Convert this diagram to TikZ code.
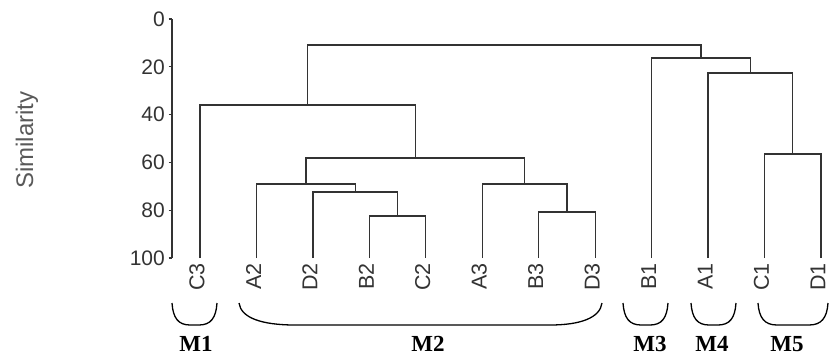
\documentclass[tikz,border=0pt]{standalone}
\usepackage{fontspec}
\setmainfont{Liberation Serif}
\setsansfont{Liberation Sans}
\begin{document}
\begin{tikzpicture}[x=1pt,y=-1pt,
  dend/.style={draw=black!80,line width=1.3pt},
  axisline/.style={draw=black!80,line width=1.2pt},
  ticklab/.style={anchor=east,inner sep=0pt,text=black!80,font=\sffamily\fontsize{21}{22}\selectfont},
  leaflab/.style={rotate=90,anchor=east,inner sep=0pt,text=black!80,font=\sffamily\fontsize{21.5}{23}\selectfont},
  grplab/.style={inner sep=0pt,font=\bfseries\fontsize{23}{25}\selectfont},
  brk/.style={draw=black,line width=1.3pt},
  ytitle/.style={rotate=90,inner sep=0pt,text=black!65,font=\sffamily\fontsize{24}{26}\selectfont}]
\useasboundingbox (0,0) rectangle (830,360);
% axis
\node[ytitle] (ytit) at (27,140) {Similarity};
\coordinate (ax0) at (172,19);
\coordinate (ax100) at (172,258);
\draw[axisline] (ax0) -- (ax100);
\foreach \v/\yy in {0/19,20/66.8,40/114.6,60/162.4,80/210.2,100/258}{
  \draw[axisline] (168.5,\yy) -- (172,\yy);
  \node[ticklab] (t\v) at (165,\yy) {\v};
}
% leaves
\foreach \n/\xx in {C3/200,A2/256.5,D2/312.9,B2/369.4,C2/425.8,A3/482.3,B3/538.7,D3/595.2,B1/651.6,A1/708.1,C1/764.5,D1/821}{
  \coordinate (\n) at (\xx,258);
  \node[leaflab] (l\n) at (\xx-3,263) {\n};
}
% clusters
\coordinate (cBC2) at (397.6,216);
\coordinate (cD2) at (355.2,192);
\coordinate (cA2) at (305.9,184);
\coordinate (cBD3) at (567,212);
\coordinate (cA3) at (524.6,184);
\coordinate (cM2) at (415.2,158);
\coordinate (cM12) at (307.6,105);
\coordinate (cCD1) at (792.8,154);
\coordinate (cA1) at (750.4,73);
\coordinate (cB1) at (701,58);
\coordinate (root) at (504.3,45);
\draw[dend] (B2) |- (cBC2) -| (C2);
\draw[dend] (D2) |- (cD2) -| (cBC2);
\draw[dend] (A2) |- (cA2) -| (cD2);
\draw[dend] (B3) |- (cBD3) -| (D3);
\draw[dend] (A3) |- (cA3) -| (cBD3);
\draw[dend] (cA2) |- (cM2) -| (cA3);
\draw[dend] (C3) |- (cM12) -| (cM2);
\draw[dend] (C1) |- (cCD1) -| (D1);
\draw[dend] (A1) |- (cA1) -| (cCD1);
\draw[dend] (B1) |- (cB1) -| (cA1);
\draw[dend] (cM12) |- (root) -| (cB1);
% brackets
\foreach \xa/\xb/\r in {172/217/18,623/668/18,691/736/18,758/828/19}{
  \draw[brk] (\xa,303) .. controls (\xa+1,318) and (\xa+0.35*\r,325) .. (\xa+\r,325)
     -- (\xb-\r,325) .. controls (\xb-0.35*\r,325) and (\xb-1,318) .. (\xb,303);
}
\draw[brk] (239,303) .. controls (241,318) and (262,325) .. (295,325)
   -- (550,325) .. controls (580,325) and (600,318) .. (602,303);
% group labels
\node[grplab] (M1) at (196,344) {M1};
\node[grplab] (M2) at (428,344) {M2};
\node[grplab] (M3) at (650,344) {M3};
\node[grplab] (M4) at (712,344) {M4};
\node[grplab] (M5) at (787,344) {M5};
\end{tikzpicture}
\end{document}
